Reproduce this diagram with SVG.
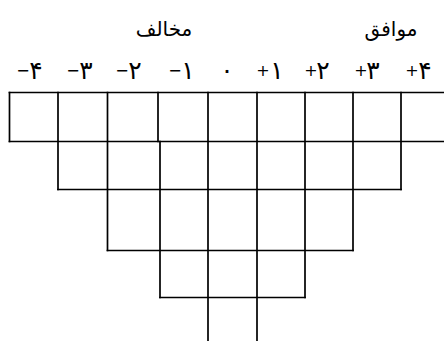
<svg xmlns="http://www.w3.org/2000/svg" width="444" height="341" viewBox="0 0 444 341">
<style>
.t{font-family:"DejaVu Sans","Noto Sans",sans-serif;fill:#000;text-anchor:middle}
.h{font-size:20px}
.n{font-size:25px}
.s{font-size:16px}
.g{fill:none;stroke:#000;stroke-width:1.7;stroke-linecap:square}
</style>
<rect width="444" height="341" fill="#fff"/>
<g id="headings">
<text class="t h" x="391" y="36">موافق</text>
<text class="t h" x="164" y="36">مخالف</text>
</g>
<g id="scale">
<text class="t s" x="23" y="76">−</text><text class="t n" x="36" y="79">۴</text>
<text class="t s" x="73" y="76">−</text><text class="t n" x="86" y="79">۳</text>
<text class="t s" x="122" y="76">−</text><text class="t n" x="135" y="79">۲</text>
<text class="t s" x="175" y="76">−</text><text class="t n" x="188" y="79">۱</text>
<text class="t n" x="227" y="79">۰</text>
<text class="t s" x="263" y="76">+</text><text class="t n" x="277" y="79">۱</text>
<text class="t s" x="311" y="76">+</text><text class="t n" x="323" y="79">۲</text>
<text class="t s" x="361" y="76">+</text><text class="t n" x="373" y="79">۳</text>
<text class="t s" x="412" y="76">+</text><text class="t n" x="425" y="79">۴</text>
</g>
<g id="grid">
<path class="g" d="M9.5 92.5H445M9.5 141.5H445M58 189.5H401M107.5 250.5H353M160 297.5H305"/>
<path class="g" d="M9.5 92.5V141.5M58 92.5V189.5M107.5 92.5V250.5M158 92.5V141.5M160 141.5V297.5M208 92.5V342M257 92.5V342M305 92.5V297.5M353 92.5V250.5M401 92.5V189.5"/>
</g>
</svg>
